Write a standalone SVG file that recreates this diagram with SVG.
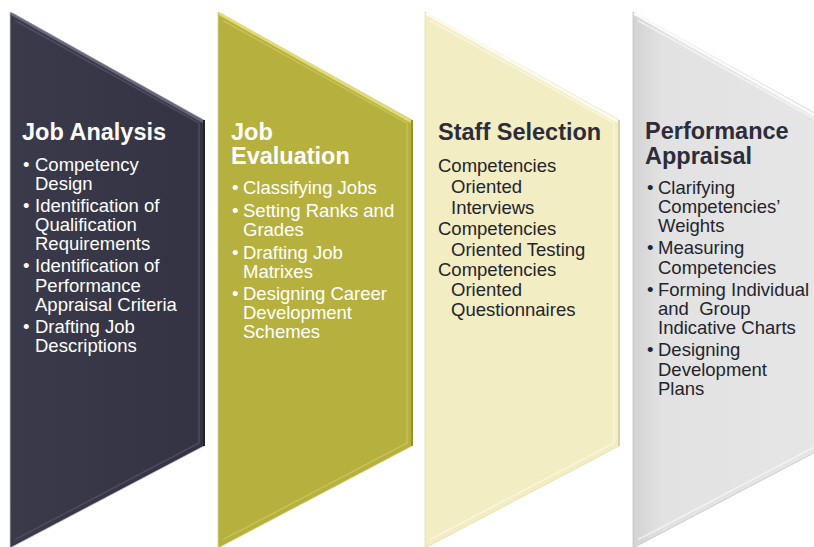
<svg xmlns="http://www.w3.org/2000/svg" width="814" height="547" viewBox="0 0 814 547">
<defs>
<style>
.t{font-family:"Liberation Sans",Arial,sans-serif;font-weight:bold;font-size:23.5px}
.b{font-family:"Liberation Sans",Arial,sans-serif;font-size:18.5px}
.w{fill:#ffffff}
.d{fill:#24242e}
.dt{fill:#2c2c3a}
.hl{fill:none;stroke-width:3;stroke-linecap:round}
.in{fill:none;stroke-width:1.5;stroke-linejoin:round}
</style>
<linearGradient id="g4" x1="0" y1="0" x2="1" y2="0">
<stop offset="0" stop-color="#d3d3d3"/>
<stop offset="0.15" stop-color="#e2e2e2"/>
<stop offset="1" stop-color="#e6e6e6"/>
</linearGradient>
<linearGradient id="g1" x1="0" y1="0" x2="1" y2="0">
<stop offset="0" stop-color="#3a3a4a"/>
<stop offset="1" stop-color="#333343"/>
</linearGradient>
</defs>

<g id="node-job-analysis" transform="translate(10,0)">
<polygon points="0,12 194,120 194,446 0,548" fill="url(#g1)" stroke="#c8c8d0" stroke-width="0.8"/>
<line class="hl" x1="2" y1="14" x2="192" y2="121" stroke="#73738a" opacity="0.8"/>
<polyline class="in" points="5,20.5 189,123 189,443 5,539.7" stroke="#55556a" opacity="0.7"/>
<line x1="194" y1="120" x2="194" y2="446" stroke="#22222c" stroke-width="2"/>
<text class="t w" x="12" y="139.5">Job Analysis</text>
<g class="b w">
<text x="13" y="171">•</text><text x="25" y="171">Competency</text>
<text x="25" y="190">Design</text>
<text x="13" y="211.5">•</text><text x="25" y="211.5">Identification of</text>
<text x="25" y="230.5">Qualification</text>
<text x="25" y="249.5">Requirements</text>
<text x="13" y="272">•</text><text x="25" y="272">Identification of</text>
<text x="25" y="291.5">Performance</text>
<text x="25" y="310.5">Appraisal Criteria</text>
<text x="13" y="333">•</text><text x="25" y="333">Drafting Job</text>
<text x="25" y="352">Descriptions</text>
</g>
</g>

<g id="node-job-evaluation" transform="translate(218,0)">
<polygon points="0,12 194,120 194,446 0,548" fill="#b6b13f" stroke="#d8d39a" stroke-width="0.8"/>
<line class="hl" x1="2" y1="14" x2="192" y2="121" stroke="#e6e07a" opacity="0.9"/>
<polyline class="in" points="5,20.5 189,123 189,443 5,539.7" stroke="#d2cc62" opacity="0.6"/>
<line x1="194" y1="120" x2="194" y2="446" stroke="#96912c" stroke-width="2"/>
<text class="t w" x="13" y="139.5">Job</text>
<text class="t w" x="13" y="163.5">Evaluation</text>
<g class="b w">
<text x="14" y="193.5">•</text><text x="25" y="193.5">Classifying Jobs</text>
<text x="14" y="216.5">•</text><text x="25" y="216.5">Setting Ranks and</text>
<text x="25" y="235.5">Grades</text>
<text x="14" y="258.5">•</text><text x="25" y="258.5">Drafting Job</text>
<text x="25" y="277.5">Matrixes</text>
<text x="14" y="300">•</text><text x="25" y="300">Designing Career</text>
<text x="25" y="319">Development</text>
<text x="25" y="338">Schemes</text>
</g>
</g>

<g id="node-staff-selection" transform="translate(425,0)">
<polygon points="0,12 194,120 194,446 0,548" fill="#f2edc3" stroke="#e2ddb0" stroke-width="0.8"/>
<line class="hl" x1="2" y1="14" x2="192" y2="121" stroke="#fdfcf0" opacity="0.95"/>
<polyline class="in" points="5,20.5 189,123 189,443 5,539.7" stroke="#fbf8e2" opacity="0.8"/>
<line x1="194" y1="120" x2="194" y2="446" stroke="#d9d3a4" stroke-width="2"/>
<text class="t dt" x="13" y="140">Staff Selection</text>
<g class="b d">
<text x="13" y="172">Competencies</text>
<text x="26" y="193">Oriented</text>
<text x="26" y="214">Interviews</text>
<text x="13" y="235">Competencies</text>
<text x="26" y="256">Oriented Testing</text>
<text x="13" y="276">Competencies</text>
<text x="26" y="296">Oriented</text>
<text x="26" y="316">Questionnaires</text>
</g>
</g>

<g id="node-performance-appraisal" transform="translate(633,0)">
<polygon points="0,12 194,120 194,446 0,548" fill="url(#g4)" stroke="#c4c4c4" stroke-width="0.8"/>
<line class="hl" x1="2" y1="14" x2="192" y2="121" stroke="#fbfbfb" opacity="0.95"/>
<polyline class="in" points="5,20.5 189,123 189,443 5,539.7" stroke="#f6f6f6" opacity="0.8"/>
<text class="t dt" x="12" y="139">Performance</text>
<text class="t dt" x="12" y="163.5">Appraisal</text>
<g class="b d">
<text x="14" y="193.5">•</text><text x="25" y="193.5">Clarifying</text>
<text x="25" y="212.5">Competencies’</text>
<text x="25" y="231.5">Weights</text>
<text x="14" y="254">•</text><text x="25" y="254">Measuring</text>
<text x="25" y="273.5">Competencies</text>
<text x="14" y="295.5">•</text><text x="25" y="295.5">Forming Individual</text>
<text x="25" y="314.5" style="white-space:pre">and  Group</text>
<text x="25" y="333.5">Indicative Charts</text>
<text x="14" y="356">•</text><text x="25" y="356">Designing</text>
<text x="25" y="375.5">Development</text>
<text x="25" y="394.5">Plans</text>
</g>
</g>

<g id="connectors"></g>
</svg>
